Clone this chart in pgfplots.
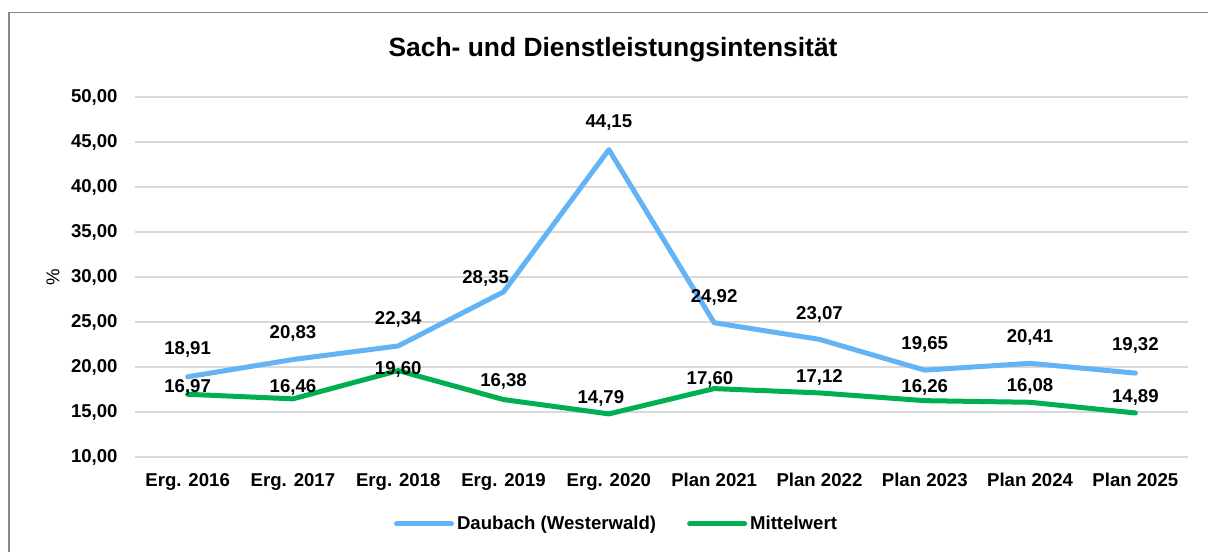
\documentclass[border=0pt]{standalone}
\usepackage{fontspec}
\setmainfont{Liberation Sans}
\usepackage{pgfplots}
\usepackage{pgfplotstable}
\pgfplotsset{compat=1.18}
\definecolor{daublue}{RGB}{100,180,245}
\definecolor{mwgreen}{RGB}{0,176,80}
\definecolor{gridgray}{RGB}{217,217,217}
\definecolor{framegray}{RGB}{137,137,137}
\newcommand{\lblfont}{\fontsize{9.3}{11}\selectfont\bfseries}

\pgfplotstableread{
x y
0 18.91
1 20.83
2 22.34
3 28.35
4 44.15
5 24.92
6 23.07
7 19.65
8 20.41
9 19.32
}\daubach
\pgfplotstableread{
x y
0 16.97
1 16.46
2 19.60
3 16.38
4 14.79
5 17.60
6 17.12
7 16.26
8 16.08
9 14.89
}\mittel
% label positions (centres) and texts
\pgfplotstableread{
x y lbl
0 22.22 18,91
1 24.00 20,83
2 25.56 22,34
2.83 30.11 28,35
4 47.33 44,15
5 28.00 24,92
6 26.11 23,07
7 22.78 19,65
8 23.56 20,41
9 22.67 19,32
}\daublbl
\pgfplotstableread{
x y lbl
0 18.00 16,97
1 18.00 16,46
2 20.00 19,60
3 18.67 16,38
3.924 16.78 14,79
4.96 18.89 17,60
6 19.11 17,12
7 18.00 16,26
8 18.11 16,08
9 16.89 14,89
}\mittellbl

\begin{document}
\begin{tikzpicture}
\draw[framegray, line width=0.65pt] (4.5pt,-5pt) -- (4.5pt,269.3pt) -- (615pt,269.3pt);
\begin{axis}[
  at={(67.5pt,47pt)}, anchor=south west,
  scale only axis, width=526.5pt, height=180pt,
  xmin=-0.5, xmax=9.5, ymin=10, ymax=50,
  axis line style={draw=none},
  major tick length=0pt,
  xtick={0,...,9},
  xticklabels={Erg. 2016,Erg. 2017,Erg. 2018,Erg. 2019,Erg. 2020,Plan 2021,Plan 2022,Plan 2023,Plan 2024,Plan 2025},
  ytick={10,15,...,50},
  ymajorgrids, major grid style={gridgray, line width=1pt},
  /pgf/number format/assume math mode=true,
  yticklabel style={font=\lblfont, anchor=east, inner sep=0pt, xshift=-8.5pt,
    /pgf/number format/.cd, fixed, fixed zerofill, precision=2, use comma, 1000 sep={}},
  xticklabel style={font=\lblfont, anchor=north, inner sep=0pt, yshift=-8pt},
  ylabel={\%},
  ylabel style={font=\fontsize{9.3}{11}\selectfont, at={(axis description cs:-0.078,0.5)}, anchor=center, rotate=0},
  title={Sach- und Dienstleistungsintensität},
  title style={font=\fontsize{13.2}{15}\selectfont\bfseries, at={(axis description cs:0.454,1.078)}, anchor=base},
  legend columns=2,
  legend style={at={(axis description cs:0.4577,-0.186)}, anchor=center, draw=none, font=\lblfont,
    /tikz/every even column/.append style={column sep=14pt},
    nodes={inner sep=1.5pt}},
  legend image code/.code={\draw[#1, line cap=round] (0pt,0pt) -- (27.5pt,0pt);},
  clip=false,
]
\addplot[daublue, line width=2.5pt, line join=round, line cap=round] table[x=x,y=y] {\daubach};
\addlegendentry{Daubach (Westerwald)}
\addplot[mwgreen, line width=2.5pt, line join=round, line cap=round] table[x=x,y=y] {\mittel};
\addlegendentry{Mittelwert}
\addplot[draw=none, forget plot, nodes near coords, point meta=explicit symbolic,
  every node near coord/.append style={anchor=center, font=\lblfont, inner sep=0pt, yshift=-1pt}]
  table[x=x,y=y,meta=lbl] {\daublbl};
\addplot[draw=none, forget plot, nodes near coords, point meta=explicit symbolic,
  every node near coord/.append style={anchor=center, font=\lblfont, inner sep=0pt, yshift=-1pt}]
  table[x=x,y=y,meta=lbl] {\mittellbl};
\end{axis}
\pgfresetboundingbox
\path[use as bounding box] (0pt,0pt) rectangle (604pt,275.5pt);
\end{tikzpicture}
\end{document}
